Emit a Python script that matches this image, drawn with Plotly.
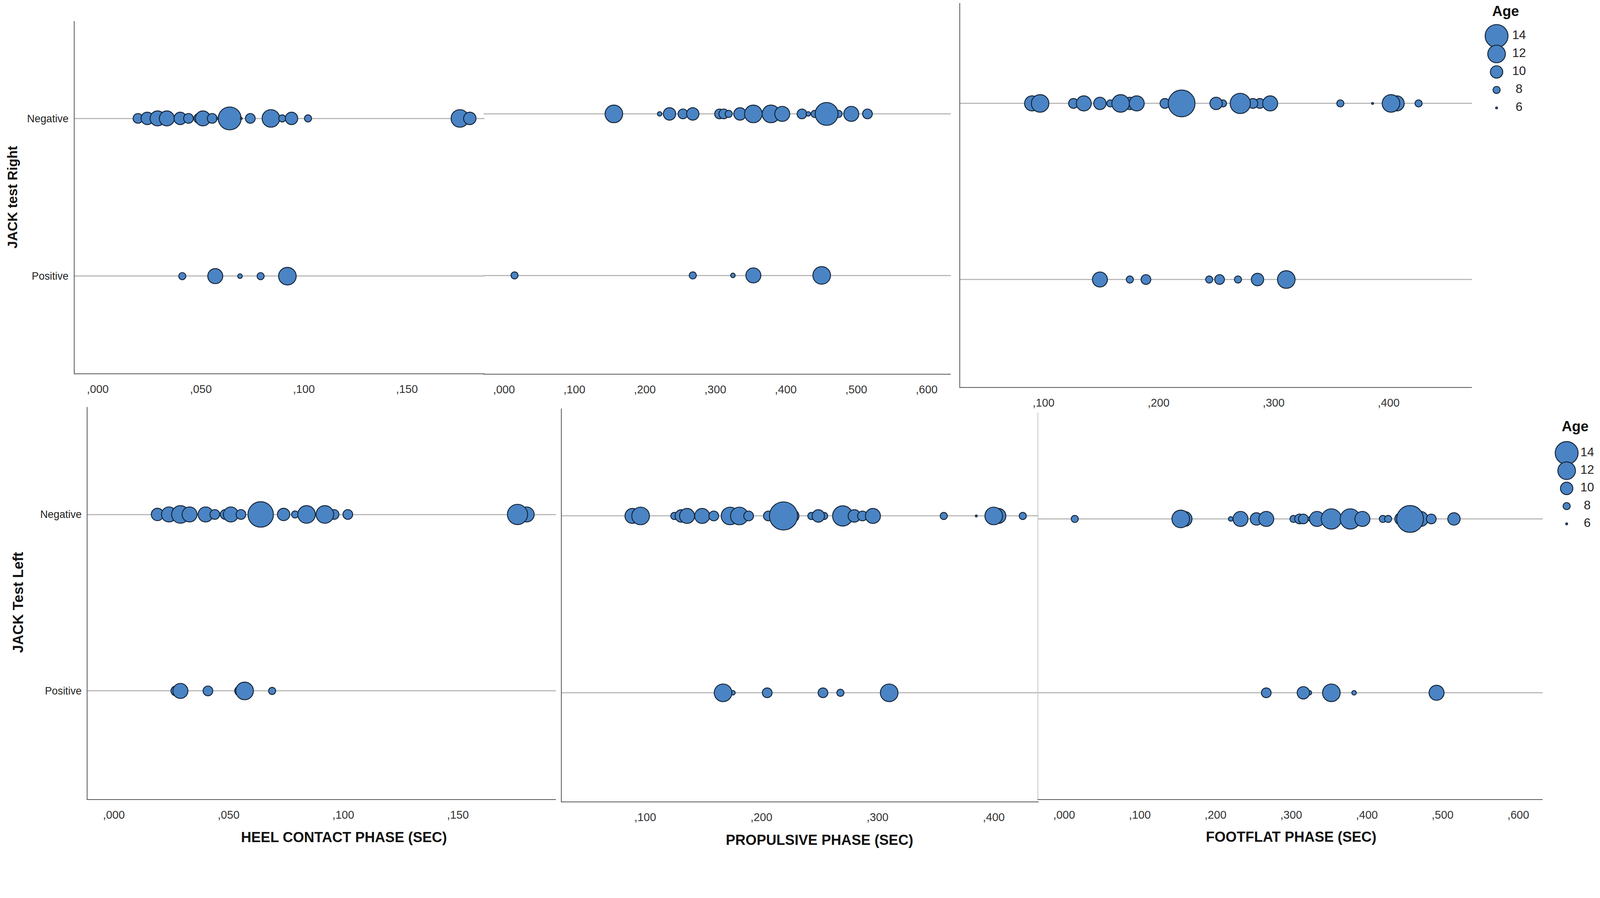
import plotly.graph_objects as go

# The page is photographed at 4270x2299 device px; CSS px are ~1.0425 device px.
K = 4270 / 4096
OFF = 8                      # default body margin (CSS px)
W, H = 4078, 2186            # figure size in CSS px (fits the viewport, no scrollbars)

# ---------------- data ----------------
categories = ["Positive", "Negative"]

# Top row (JACK test Right)
heel_right_neg_x = [0.0195, 0.024, 0.029, 0.0335, 0.040, 0.044, 0.049, 0.051, 0.0555, 0.058,
                    0.064, 0.0696, 0.074, 0.084, 0.0895, 0.094, 0.102, 0.1757, 0.1805]
heel_right_neg_age = [9, 10, 11, 11, 10, 9, 9, 11, 9, 6, 14, 6, 9, 12, 8, 10, 8, 12, 10]
heel_right_pos_x = [0.041, 0.057, 0.069, 0.079, 0.092]
heel_right_pos_age = [8, 11, 7, 8, 12]

foot_right_neg_x = [0.156, 0.221, 0.235, 0.254, 0.268, 0.306, 0.312, 0.319, 0.335, 0.354,
                    0.379, 0.395, 0.423, 0.432, 0.441, 0.475, 0.458, 0.493, 0.516]
foot_right_neg_age = [12, 7, 10, 9, 10, 9, 9, 8, 10, 12, 12, 11, 9, 7, 8, 8, 14, 11, 9]
foot_right_pos_x = [0.015, 0.268, 0.325, 0.354, 0.451]
foot_right_pos_age = [8, 8, 7, 11, 12]

prop_right_neg_x = [0.090, 0.097, 0.126, 0.135, 0.149, 0.158, 0.175, 0.167, 0.181, 0.2055,
                    0.220, 0.256, 0.250, 0.288, 0.282, 0.271, 0.297, 0.358, 0.386, 0.407,
                    0.402, 0.426]
prop_right_neg_age = [11, 12, 9, 11, 10, 8, 10, 12, 11, 9, 15.5, 8, 10, 9, 9, 13, 11, 8, 6,
                      11, 12, 8]
prop_right_pos_x = [0.149, 0.175, 0.189, 0.244, 0.253, 0.269, 0.286, 0.311]
prop_right_pos_age = [11, 8, 9, 8, 9, 8, 10, 12]

# Bottom row (JACK Test Left)
heel_left_neg_x = [0.019, 0.024, 0.029, 0.033, 0.040, 0.044, 0.0485, 0.051, 0.0554, 0.064,
                   0.074, 0.079, 0.084, 0.096, 0.092, 0.102, 0.180, 0.176]
heel_left_neg_age = [10, 11, 12, 11, 11, 9, 9, 11, 9, 15, 10, 8, 12, 9, 12, 9, 11, 13]
heel_left_pos_x = [0.027, 0.029, 0.041, 0.0548, 0.057, 0.069]
heel_left_pos_age = [9, 11, 9, 9, 12, 8]

prop_left_neg_x = [0.089, 0.096, 0.125, 0.131, 0.136, 0.149, 0.159, 0.173, 0.181, 0.189,
                   0.206, 0.227, 0.219, 0.243, 0.254, 0.249, 0.270, 0.280, 0.287, 0.296,
                   0.357, 0.385, 0.404, 0.400, 0.425]
prop_left_neg_age = [11, 12, 8, 10, 11, 11, 9, 12, 12, 9, 9, 10, 16, 8, 8, 10, 13, 10, 9, 11,
                     8, 6, 11, 12, 8]
prop_left_pos_x = [0.1755, 0.167, 0.205, 0.253, 0.268, 0.310]
prop_left_pos_age = [7, 12, 9, 9, 8, 12]

foot_left_neg_x = [0.014, 0.159, 0.154, 0.220, 0.233, 0.254, 0.267, 0.303, 0.311, 0.316,
                   0.325, 0.334, 0.353, 0.378, 0.394, 0.421, 0.428, 0.445, 0.471, 0.457,
                   0.485, 0.515]
foot_left_neg_age = [8, 11, 12, 7, 11, 10, 11, 8, 9, 9, 7, 11, 13, 13, 11, 8, 8, 10, 11, 15.5,
                     9, 10]
foot_left_pos_x = [0.267, 0.324, 0.316, 0.353, 0.383, 0.492]
foot_left_pos_age = [9, 7, 10, 12, 7, 11]

# tick labels
heel_ticks = [0.0, 0.05, 0.10, 0.15]
heel_ticktext = [",000", ",050", ",100", ",150"]
foot_ticks = [0.0, 0.1, 0.2, 0.3, 0.4, 0.5, 0.6]
foot_ticktext = [",000", ",100", ",200", ",300", ",400", ",500", ",600"]
prop_ticks = [0.1, 0.2, 0.3, 0.4]
prop_ticktext = [",100", ",200", ",300", ",400"]

legend_ages = [14, 12, 10, 8, 6]
legend_labels = ["14", "12", "10", "8", "6"]

# ---------------- style ----------------
FILL = "#4a84c4"
EDGE = "#16263a"
GRID = "#bababa"
AXIS = "#555555"
FONT = "Liberation Sans, Arial, sans-serif"


def s(v):
    """device px -> CSS px"""
    return v / K


def diam(ages):
    return [s(5 + 7 * (a - 6)) for a in ages]


# limits of the visible figure in reference (device) px
RX0, RX1 = OFF * K, (OFF + W) * K
RY0, RY1 = OFF * K, (OFF + H) * K


def fx(r):
    return (r / K - OFF) / W


def fy(r):
    return 1 - (r / K - OFF) / H


def clampx(r):
    return min(max(r, RX0), RX1)


def clampy(r):
    return min(max(r, RY0), RY1)


fig = go.Figure()


def bubbles(xs, ages, cat, ax):
    fig.add_trace(go.Scatter(
        x=xs, y=[cat] * len(xs), mode="markers",
        marker=dict(size=diam(ages), sizemode="diameter", color=FILL,
                    line=dict(color=EDGE, width=s(2.5)), opacity=1),
        xaxis="x" + ax, yaxis="y" + ax, showlegend=False, hoverinfo="x"))


# panel geometry in reference px:
# (axis id, data, (x0, x1), (ytop, ybottom), (value, px, px-per-unit), (neg px, pos px),
#  ticks, ticktext, y line colour, show y labels)
panels = [
    ("", (heel_right_neg_x, heel_right_neg_age, heel_right_pos_x, heel_right_pos_age),
     (199, 1293), (56, 997), (0.0, 261, 5500), (316, 737),
     heel_ticks, heel_ticktext, AXIS, True),
    ("2", (foot_right_neg_x, foot_right_neg_age, foot_right_pos_x, foot_right_pos_age),
     (1291, 2537), (41, 998), (0.0, 1345, 1880), (304, 735),
     foot_ticks, foot_ticktext, None, False),
    ("3", (prop_right_neg_x, prop_right_neg_age, prop_right_pos_x, prop_right_pos_age),
     (2562, 3928), (0, 1033), (0.1, 2785, 3070), (276, 746),
     prop_ticks, prop_ticktext, AXIS, False),
    ("4", (heel_left_neg_x, heel_left_neg_age, heel_left_pos_x, heel_left_pos_age),
     (234, 1483), (1086, 2133), (0.0, 304, 6120), (1373, 1844),
     heel_ticks, heel_ticktext, AXIS, True),
    ("5", (prop_left_neg_x, prop_left_neg_age, prop_left_pos_x, prop_left_pos_age),
     (1499, 2772), (1090, 2139), (0.1, 1722, 3100), (1377, 1849),
     prop_ticks, prop_ticktext, AXIS, False),
    ("6", (foot_left_neg_x, foot_left_neg_age, foot_left_pos_x, foot_left_pos_age),
     (2771, 4117), (1101, 2133), (0.0, 2840, 2020), (1385, 1849),
     foot_ticks, foot_ticktext, "#c8c8c8", False),
]

layout_axes = {}
for ax, data, (x0, x1), (yt, yb), (v0, p0, slope), (pn, pp), tv, tt, yline, ylab in panels:
    nx, na, px_, pa = data
    bubbles(nx, na, "Negative", ax)
    bubbles(px_, pa, "Positive", ax)
    x0, x1 = clampx(x0), clampx(x1)
    yt, yb = clampy(yt), clampy(yb)
    xr = [v0 + (x0 - p0) / slope, v0 + (x1 - p0) / slope]
    yr = [(pp - yb) / (pp - pn), (pp - yt) / (pp - pn)]
    layout_axes["xaxis" + ax] = dict(
        domain=[fx(x0), fx(x1)], range=xr, anchor="y" + ax,
        showline=True, linecolor=AXIS, linewidth=s(2.5), mirror=False,
        showgrid=False, zeroline=False, ticks="",
        tickvals=tv, ticktext=tt, ticklabelstandoff=int(round(s(14))),
        tickfont=dict(family=FONT, size=s(30), color="#333333"))
    layout_axes["yaxis" + ax] = dict(
        domain=[fy(yb), fy(yt)], range=yr, anchor="x" + ax,
        type="category", categoryorder="array", categoryarray=categories,
        showline=yline is not None, linecolor=yline or AXIS, linewidth=s(2.5),
        showgrid=True, gridcolor=GRID, gridwidth=s(3), zeroline=False, ticks="",
        showticklabels=ylab, ticklabelstandoff=int(round(s(8))),
        tickfont=dict(family=FONT, size=s(28), color="#222222"))

# Age legends drawn as bubble keys
# (axis id, bubble centre x, label centre x, y of age 14, y of age 6) in reference px
legends = [("7", 3994, 4054, 96, 288),
           ("8", 4181, 4236, 1209, 1398)]
for ax, bx, lx, y14, y6 in legends:
    fig.add_trace(go.Scatter(
        x=[bx] * len(legend_ages), y=legend_ages, mode="markers",
        marker=dict(size=diam(legend_ages), sizemode="diameter", color=FILL,
                    line=dict(color=EDGE, width=s(2.5)), opacity=1),
        xaxis="x" + ax, yaxis="y" + ax, showlegend=False, hoverinfo="skip",
        cliponaxis=False))
    fig.add_trace(go.Scatter(
        x=[lx] * len(legend_ages), y=legend_ages, mode="text", text=legend_labels,
        textposition="middle center",
        textfont=dict(family=FONT, size=s(33), color="#222222"),
        xaxis="x" + ax, yaxis="y" + ax, showlegend=False, hoverinfo="skip",
        cliponaxis=False))
    # x axis in reference-pixel units, y axis in years of age
    lx0, lx1 = bx - 60, lx + 20
    per = (y6 - y14) / 8.0          # reference px per year
    ly0, ly1 = y14 - 40, y6 + 30
    layout_axes["xaxis" + ax] = dict(domain=[fx(lx0), fx(lx1)], range=[lx0, lx1],
                                     visible=False, anchor="y" + ax)
    layout_axes["yaxis" + ax] = dict(domain=[fy(ly1), fy(ly0)],
                                     range=[14 - (ly1 - y14) / per, 14 + (y14 - ly0) / per],
                                     visible=False, anchor="x" + ax)


def ann(text, x, y, size, angle=0):
    return dict(text="<b>" + text + "</b>", x=fx(x), y=fy(y), xref="paper", yref="paper",
                showarrow=False, textangle=angle, xanchor="center", yanchor="middle",
                font=dict(family=FONT, size=s(size), color="#111111"))


annotations = [
    ann("JACK test Right", 33, 526, 36, -90),
    ann("JACK Test Left", 48, 1608, 38, -90),
    ann("HEEL CONTACT PHASE (SEC)", 918, 2235, 38),
    ann("PROPULSIVE PHASE (SEC)", 2187, 2242, 38),
    ann("FOOTFLAT PHASE (SEC)", 3446, 2233, 38),
    ann("Age", 4018, 30, 38),
    ann("Age", 4204, 1138, 38),
]

fig.update_layout(
    width=W, height=H, autosize=False,
    margin=dict(l=0, r=0, t=0, b=0),
    paper_bgcolor="white", plot_bgcolor="rgba(0,0,0,0)",
    showlegend=False, annotations=annotations,
    **layout_axes)

fig.write_html("out.html")
